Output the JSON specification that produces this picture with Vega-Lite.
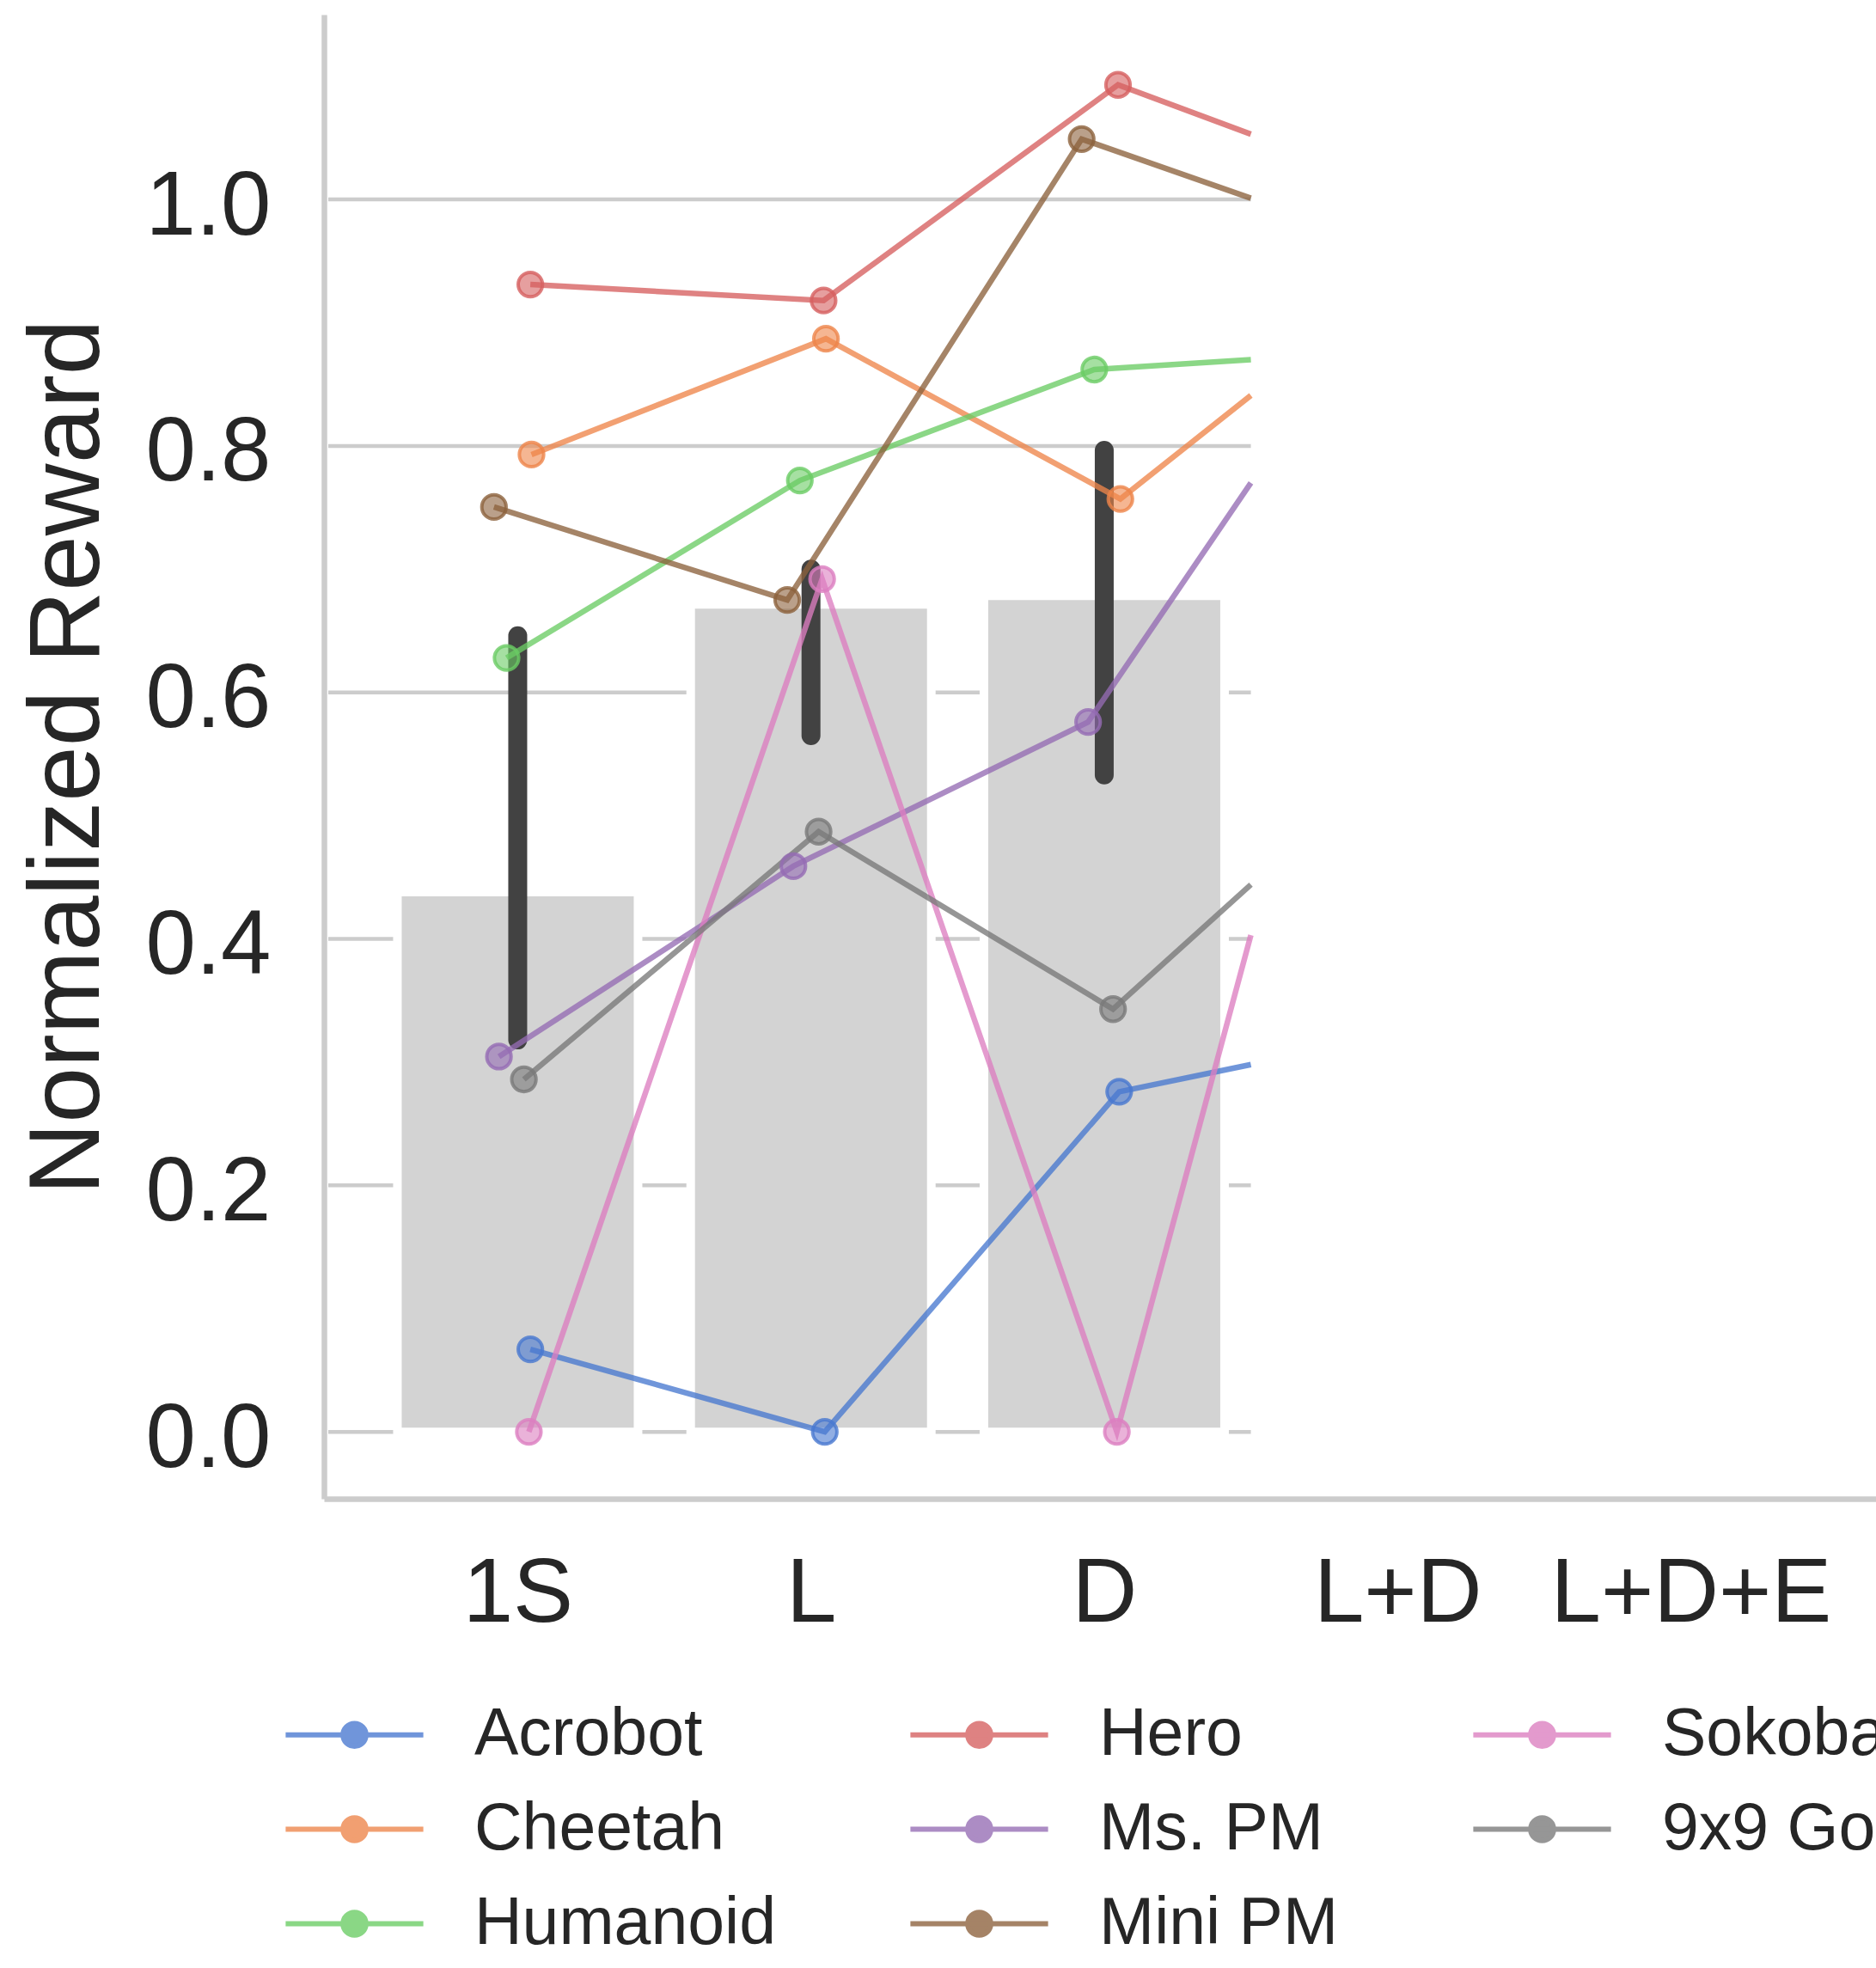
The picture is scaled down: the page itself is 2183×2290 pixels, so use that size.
{
  "$schema": "https://vega.github.io/schema/vega-lite/v6.json",
  "autosize": {"type": "none"},
  "padding": {"left": 377, "top": 17, "right": 0, "bottom": 546},
  "width": 1806,
  "height": 1727,
  "background": "white",
  "config": {
    "view": {"stroke": null},
    "font": "Liberation Sans",
    "text": {"font": "Liberation Sans"}
  },
  "datasets": {
    "grid": [
      {"level": 0.0}, {"level": 0.2}, {"level": 0.4}, {"level": 0.6}, {"level": 0.8}, {"level": 1.0}
    ],
    "bars": [
      {"cond": "1S", "x": 0, "mean": 0.438, "lo": 0.318, "hi": 0.646},
      {"cond": "L", "x": 1, "mean": 0.6715, "lo": 0.565, "hi": 0.700},
      {"cond": "D", "x": 2, "mean": 0.6785, "lo": 0.533, "hi": 0.7965}
    ],
    "runs": [
      {"task": "Acrobot", "cond": "1S", "kind": "pt", "x": 0.043, "reward": 0.067},
      {"task": "Acrobot", "cond": "L", "kind": "pt", "x": 1.047, "reward": 0.0},
      {"task": "Acrobot", "cond": "D", "kind": "pt", "x": 2.051, "reward": 0.276},
      {"task": "Acrobot", "cond": "edge", "kind": "edge", "x": 2.5, "reward": 0.298},
      {"task": "Cheetah", "cond": "1S", "kind": "pt", "x": 0.047, "reward": 0.793},
      {"task": "Cheetah", "cond": "L", "kind": "pt", "x": 1.051, "reward": 0.887},
      {"task": "Cheetah", "cond": "D", "kind": "pt", "x": 2.055, "reward": 0.757},
      {"task": "Cheetah", "cond": "edge", "kind": "edge", "x": 2.5, "reward": 0.841},
      {"task": "Humanoid", "cond": "1S", "kind": "pt", "x": -0.038, "reward": 0.628},
      {"task": "Humanoid", "cond": "L", "kind": "pt", "x": 0.962, "reward": 0.772},
      {"task": "Humanoid", "cond": "D", "kind": "pt", "x": 1.966, "reward": 0.862},
      {"task": "Humanoid", "cond": "edge", "kind": "edge", "x": 2.5, "reward": 0.870},
      {"task": "Hero", "cond": "1S", "kind": "pt", "x": 0.043, "reward": 0.931},
      {"task": "Hero", "cond": "L", "kind": "pt", "x": 1.043, "reward": 0.918},
      {"task": "Hero", "cond": "D", "kind": "pt", "x": 2.047, "reward": 1.093},
      {"task": "Hero", "cond": "edge", "kind": "edge", "x": 2.5, "reward": 1.053},
      {"task": "Ms. PM", "cond": "1S", "kind": "pt", "x": -0.064, "reward": 0.3045},
      {"task": "Ms. PM", "cond": "L", "kind": "pt", "x": 0.940, "reward": 0.459},
      {"task": "Ms. PM", "cond": "D", "kind": "pt", "x": 1.945, "reward": 0.576},
      {"task": "Ms. PM", "cond": "edge", "kind": "edge", "x": 2.5, "reward": 0.770},
      {"task": "Mini PM", "cond": "1S", "kind": "pt", "x": -0.081, "reward": 0.7505},
      {"task": "Mini PM", "cond": "L", "kind": "pt", "x": 0.919, "reward": 0.675},
      {"task": "Mini PM", "cond": "D", "kind": "pt", "x": 1.923, "reward": 1.049},
      {"task": "Mini PM", "cond": "edge", "kind": "edge", "x": 2.5, "reward": 1.001},
      {"task": "Sokoban", "cond": "1S", "kind": "pt", "x": 0.038, "reward": 0.0},
      {"task": "Sokoban", "cond": "L", "kind": "pt", "x": 1.038, "reward": 0.692},
      {"task": "Sokoban", "cond": "D", "kind": "pt", "x": 2.043, "reward": 0.0},
      {"task": "Sokoban", "cond": "edge", "kind": "edge", "x": 2.5, "reward": 0.403},
      {"task": "9x9 Go", "cond": "1S", "kind": "pt", "x": 0.021, "reward": 0.286},
      {"task": "9x9 Go", "cond": "L", "kind": "pt", "x": 1.026, "reward": 0.487},
      {"task": "9x9 Go", "cond": "D", "kind": "pt", "x": 2.030, "reward": 0.343},
      {"task": "9x9 Go", "cond": "edge", "kind": "edge", "x": 2.5, "reward": 0.444}
    ]
  },
  "layer": [
    {
      "data": {"name": "grid"},
      "mark": {"type": "rule", "color": "#cccccc", "strokeWidth": 4.5},
      "encoding": {
        "y": {
          "field": "level", "type": "quantitative",
          "scale": {"domain": [-0.0543, 1.15], "nice": false, "zero": false},
          "axis": {
            "values": [0, 0.2, 0.4, 0.6, 0.8, 1.0], "format": ".1f",
            "grid": false, "ticks": false, "tickSize": 0,
            "labelPadding": 62, "labelFontSize": 105, "labelColor": "#262626", "labelOffset": 8,
            "domainColor": "#cccccc", "domainWidth": 6.5,
            "title": "Normalized Reward", "titleFontSize": 116, "titleFontWeight": "normal",
            "titleColor": "#262626", "titlePadding": 39
          }
        },
        "x": {
          "datum": -0.646, "type": "quantitative",
          "scale": {"domain": [-0.646, 4.617], "nice": false, "zero": false},
          "axis": {
            "values": [0, 1, 2, 3, 4],
            "labelExpr": "['1S','L','D','L+D','L+D+E'][datum.value]",
            "grid": false, "ticks": false, "tickSize": 0,
            "labelPadding": 59, "labelFontSize": 105, "labelColor": "#262626", "labelLimit": 800,
            "labelFlush": false, "labelOverlap": false, "labelBound": false,
            "domainColor": "#cccccc", "domainWidth": 6.5, "title": null
          }
        },
        "x2": {"datum": 2.5}
      }
    },
    {
      "data": {"name": "bars"},
      "mark": {"type": "bar", "color": "#d3d3d3", "stroke": "white", "strokeWidth": 10, "width": 280},
      "encoding": {
        "x": {"field": "x", "type": "quantitative"},
        "y": {"field": "mean", "type": "quantitative"},
        "y2": {"datum": 0}
      }
    },
    {
      "data": {"name": "bars"},
      "mark": {"type": "rule", "color": "#424242", "strokeWidth": 22, "strokeCap": "round"},
      "encoding": {
        "x": {"field": "x", "type": "quantitative"},
        "y": {"field": "lo", "type": "quantitative"},
        "y2": {"field": "hi"}
      }
    },
    {
      "data": {"name": "runs"},
      "mark": {"type": "line", "strokeWidth": 6.5, "opacity": 0.78},
      "encoding": {
        "x": {"field": "x", "type": "quantitative"},
        "y": {"field": "reward", "type": "quantitative"},
        "color": {
          "field": "task", "type": "nominal",
          "scale": {
            "domain": ["Acrobot", "Cheetah", "Humanoid", "Hero", "Ms. PM", "Mini PM", "Sokoban", "9x9 Go"],
            "range": ["#4878d0", "#ee854a", "#6acc64", "#d65f5f", "#956cb4", "#8c613c", "#dc7ec0", "#797979"]
          },
          "legend": {
            "orient": "none", "legendX": -53, "legendY": 1963,
            "columns": 3, "gridAlign": "each", "padding": 0, "title": null,
            "labelFontSize": 77, "labelColor": "#262626", "labelFont": "Liberation Sans", "labelLimit": 900,
            "symbolType": "M-3,0H3M-0.5,0A0.5,0.5,0,1,0,0.5,0A0.5,0.5,0,1,0,-0.5,0",
            "symbolSize": 2852, "symbolStrokeWidth": 6, "symbolOffset": 50, "labelOffset": 101,
            "rowPadding": 32, "columnPadding": 144,
            "encode": {
              "symbols": {
                "update": {
                  "fill": {"scale": "color", "field": "value"},
                  "stroke": {"scale": "color", "field": "value"},
                  "fillOpacity": {"value": 0.6},
                  "strokeOpacity": {"value": 0.75},
                  "opacity": {"value": 1},
                  "strokeCap": {"value": "round"}
                }
              }
            }
          }
        },
        "detail": {"field": "task"}
      }
    },
    {
      "data": {"name": "runs"},
      "transform": [{"filter": "datum.kind === 'pt'"}],
      "mark": {"type": "point", "shape": "circle", "filled": true, "size": 800, "fillOpacity": 0.6, "strokeOpacity": 0.8, "strokeWidth": 4},
      "encoding": {
        "x": {"field": "x", "type": "quantitative"},
        "y": {"field": "reward", "type": "quantitative"},
        "color": {"field": "task", "type": "nominal"},
        "stroke": {
          "field": "task", "type": "nominal", "legend": null,
          "scale": {
            "domain": ["Acrobot", "Cheetah", "Humanoid", "Hero", "Ms. PM", "Mini PM", "Sokoban", "9x9 Go"],
            "range": ["#4878d0", "#ee854a", "#6acc64", "#d65f5f", "#956cb4", "#8c613c", "#dc7ec0", "#797979"]
          }
        }
      }
    }
  ]
}
